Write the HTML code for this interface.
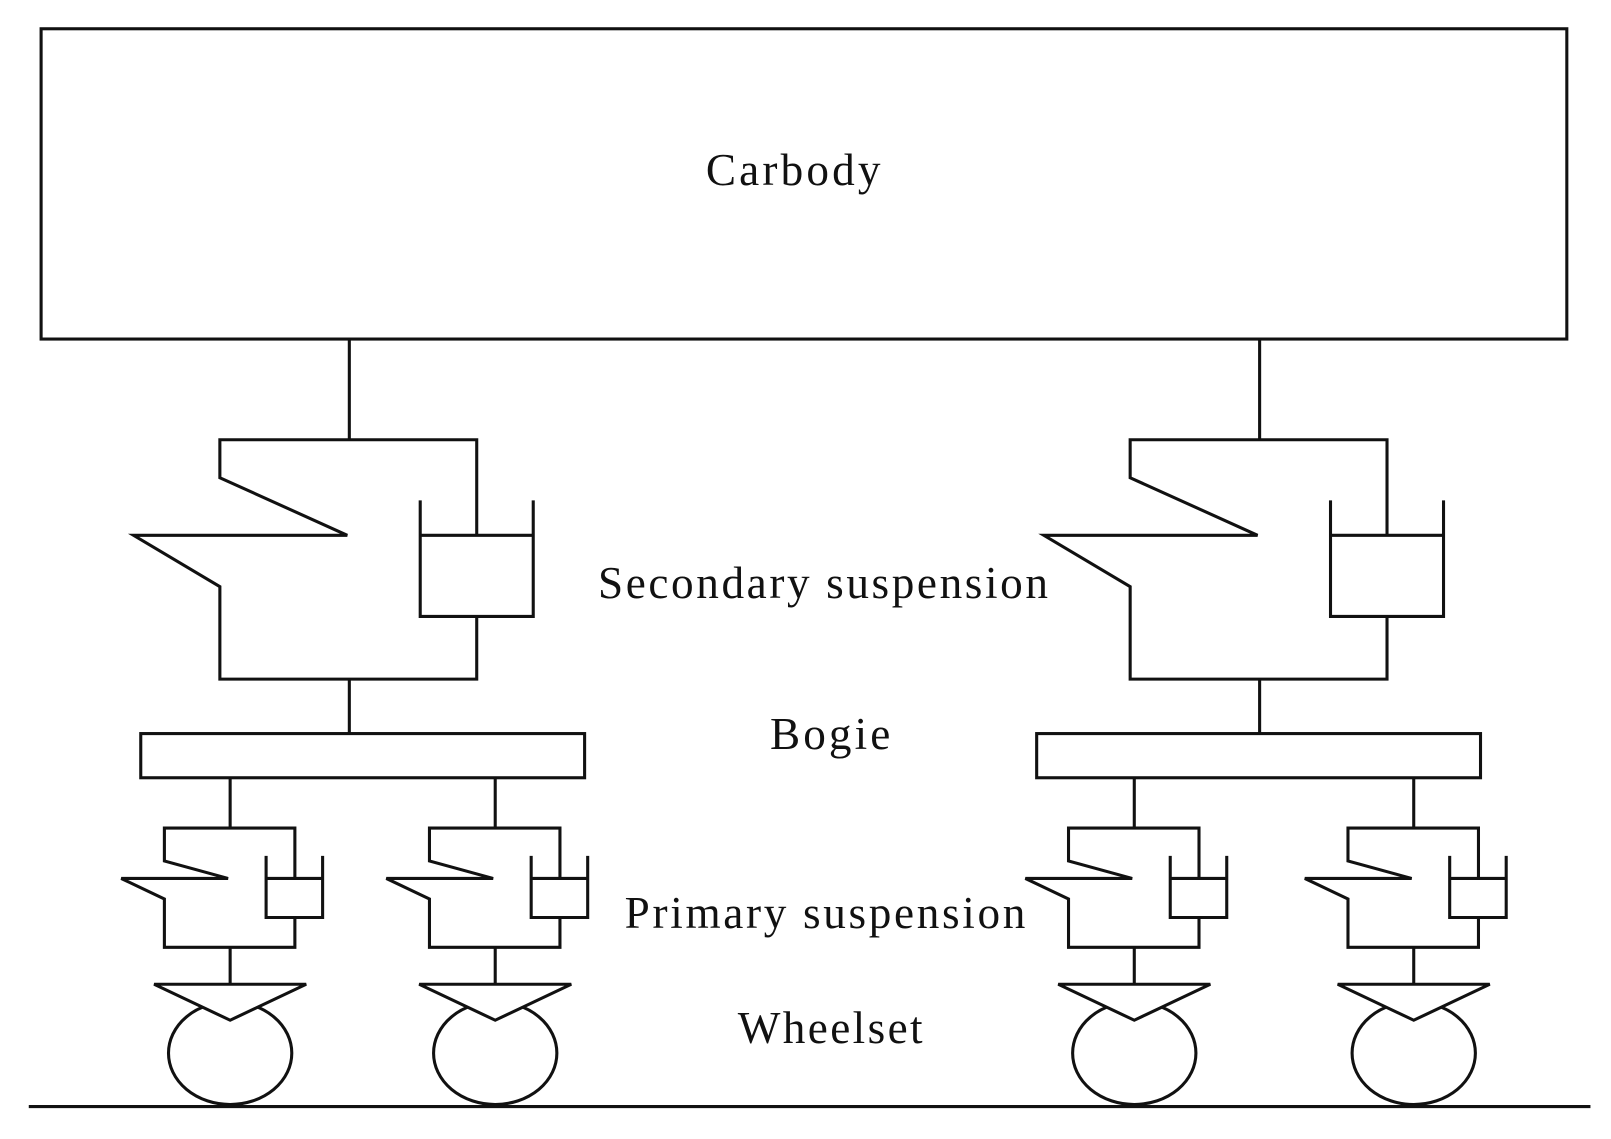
<!DOCTYPE html>
<html><head><style>html,body{margin:0;padding:0;background:#fff}svg{display:block}</style></head>
<body>
<svg width="1611" height="1139" viewBox="0 0 1568 1108.6" xmlns="http://www.w3.org/2000/svg">
<g fill="none" stroke="#111" stroke-width="3">
<rect x="40" y="28" width="1485" height="302"/>
<line x1="28" y1="1077" x2="1548" y2="1077"/>
<g id="sec">
<line x1="340" y1="330" x2="340" y2="428"/>
<polyline points="464,521 464,428 214,428 214,465 338,521 130,521 214,571 214,661 464,661 464,600"/>
<polyline points="409,487 409,600 519,600 519,487"/>
<line x1="409" y1="521" x2="519" y2="521"/>
<line x1="340" y1="661" x2="340" y2="714"/>
</g>
<use href="#sec" transform="translate(886,0)"/>
<rect x="137" y="714" width="432" height="43"/>
<rect x="1009" y="714" width="432" height="43"/>
<g id="pri">
<line x1="224" y1="757" x2="224" y2="806"/>
<polyline points="287,855 287,806 160,806 160,838 222,855 118,855 160,875 160,922 287,922 287,893"/>
<polyline points="259,833 259,893 314,893 314,833"/>
<line x1="259" y1="855" x2="314" y2="855"/>
<line x1="224" y1="922" x2="224" y2="958"/>
<ellipse cx="224" cy="1025" rx="60" ry="50"/>
<polygon points="150,958 298,958 224,993" fill="#fff"/>
</g>
<use href="#pri" transform="translate(258,0)"/>
<use href="#pri" transform="translate(880,0)"/>
<use href="#pri" transform="translate(1152,0)"/>
</g>
<g font-family="Liberation Serif, serif" font-size="44" fill="#111" text-anchor="middle">
<text x="772" y="180" textLength="170">Carbody</text>
<text x="801" y="582" textLength="438">Secondary suspension</text>
<text x="808" y="729" textLength="117">Bogie</text>
<text x="803" y="903" textLength="390">Primary suspension</text>
<text x="808" y="1015" textLength="180">Wheelset</text>
</g>
</svg>
</body></html>
